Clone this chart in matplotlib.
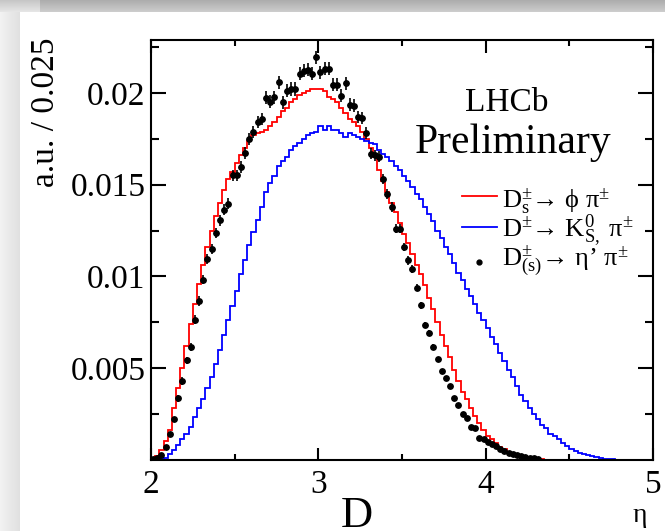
import numpy as np
import matplotlib
matplotlib.use('Agg')
import matplotlib.pyplot as plt
from matplotlib.lines import Line2D

plt.rcParams['font.family'] = ['Liberation Serif', 'DejaVu Serif']
plt.rcParams['mathtext.fontset'] = 'custom'
plt.rcParams['mathtext.rm'] = 'Liberation Serif'
plt.rcParams['mathtext.it'] = 'Liberation Serif:italic'
plt.rcParams['mathtext.bf'] = 'Liberation Serif:bold'

# ---------------- data ----------------
bin_low = 2.0
bin_width = 0.025

# D_s -> phi pi (red histogram), bins from 2.0 in steps of 0.025
red_phi_pi = [
    0.00005, 0.0002, 0.0005, 0.0010, 0.0016, 0.0028, 0.0039, 0.0050, 0.0062, 0.0074,
    0.0085, 0.0096, 0.0106, 0.0116, 0.0125, 0.0133, 0.0140, 0.0147, 0.0153, 0.0157,
    0.0162, 0.0166, 0.0170, 0.0174, 0.0177, 0.0178, 0.0179, 0.0180, 0.0182, 0.0184,
    0.0187, 0.0190, 0.0192, 0.0195, 0.0197, 0.0199, 0.0200, 0.0201, 0.0202, 0.0202,
    0.0202, 0.0201, 0.0198, 0.0197, 0.0195, 0.0192, 0.0189, 0.0186, 0.0184, 0.0182,
    0.0179, 0.0175, 0.0170, 0.0165, 0.0158, 0.0152, 0.0146, 0.0140, 0.0135, 0.0129,
    0.0123, 0.0118, 0.0112, 0.0106, 0.0101, 0.0095, 0.0088, 0.0082, 0.0075, 0.0068,
    0.0062, 0.0056, 0.0049, 0.0043, 0.0037, 0.0033, 0.0028, 0.0024, 0.0020, 0.0016,
    0.0013, 0.0011, 0.0009, 0.0007, 0.00055, 0.00042, 0.00033, 0.00026, 0.0002, 0.00015,
    0.00011, 0.00008, 0.00005, 0.00002,
]

# D -> K_S pi (blue histogram)
blue_ks_pi = [
    0.0, 0.0, 0.00003, 0.0001, 0.0003, 0.0005, 0.0008, 0.0011, 0.0014, 0.0018,
    0.0023, 0.0028, 0.0033, 0.0039, 0.0045, 0.0052, 0.0060, 0.0068, 0.0076, 0.0084,
    0.0092, 0.0101, 0.0109, 0.0117, 0.0124, 0.0131, 0.0138, 0.0146, 0.0151, 0.0155,
    0.0160, 0.0163, 0.0165, 0.0169, 0.0171, 0.0173, 0.0175, 0.0177, 0.0178, 0.0179,
    0.0182, 0.0180, 0.0182, 0.0180, 0.0180, 0.0178, 0.0176, 0.0178, 0.0177, 0.0176,
    0.0175, 0.0174, 0.0173, 0.0172, 0.0169, 0.0167, 0.0165, 0.0163, 0.0160, 0.0158,
    0.0155, 0.0152, 0.0149, 0.0145, 0.0142, 0.0138, 0.0134, 0.0130, 0.0125, 0.0121,
    0.0116, 0.0112, 0.0107, 0.0102, 0.0098, 0.0093, 0.0089, 0.0085, 0.0080, 0.0076,
    0.0072, 0.0067, 0.0063, 0.0058, 0.0054, 0.0049, 0.0045, 0.0040, 0.0035, 0.0032,
    0.0028, 0.0025, 0.0022, 0.0019, 0.0017, 0.0014, 0.0013, 0.0011, 0.0009, 0.00075,
    0.0006, 0.00048, 0.00038, 0.0003, 0.00023, 0.00017, 0.00012, 0.00008, 0.00005, 0.00003,
    0.00001,
]

# D_(s) -> eta' pi (black points) and their errors
black_etap_pi = [
    0.00001, 0.00006, 0.00024, 0.00069, 0.00138, 0.00219, 0.00333, 0.00429, 0.00542, 0.00615,
    0.00764, 0.00865, 0.00982, 0.01096, 0.01151, 0.01236, 0.01305, 0.01364, 0.01396, 0.01551,
    0.01551, 0.01596, 0.01675, 0.0175, 0.01787, 0.01841, 0.0186, 0.01974, 0.01954, 0.01978,
    0.0206, 0.0195, 0.02014, 0.02023, 0.02023, 0.02105, 0.02123, 0.02127, 0.02105, 0.02196,
    0.02114, 0.02133, 0.02133, 0.02047, 0.02047, 0.01987, 0.02054, 0.01937, 0.01932, 0.01872,
    0.01865, 0.01781, 0.01669, 0.0166, 0.01654, 0.01533, 0.01451, 0.01378, 0.0126, 0.0126,
    0.0116, 0.01087, 0.01042, 0.00938, 0.00842, 0.00733, 0.00691, 0.00615, 0.00546, 0.00485,
    0.00445, 0.0040, 0.00333, 0.00297, 0.00251, 0.00224, 0.00178, 0.0017, 0.0012, 0.0011,
    0.00097, 0.00084, 0.00073, 0.0006, 0.00047, 0.00037, 0.00029, 0.00022, 0.00018, 0.00015,
    0.0001, 0.00008, 0.00005,
]
black_err = [
    0.00005, 0.00005, 0.0001, 0.0001, 0.00012, 0.00015, 0.00018, 0.0002, 0.0002, 0.00022,
    0.00024, 0.00025, 0.00026, 0.00027, 0.00028, 0.00029, 0.0003, 0.0003, 0.0003, 0.00031,
    0.00031, 0.00032, 0.00032, 0.00033, 0.00033, 0.00034, 0.00034, 0.00035, 0.00035, 0.00035,
    0.00036, 0.00036, 0.00036, 0.00036, 0.00036, 0.00036, 0.00036, 0.00036, 0.00036, 0.00036,
    0.00036, 0.00036, 0.00036, 0.00035, 0.00035, 0.00035, 0.00035, 0.00034, 0.00034, 0.00033,
    0.00033, 0.00032, 0.0003, 0.0003, 0.0003, 0.00028, 0.00027, 0.00026, 0.00025, 0.00025,
    0.00024, 0.00023, 0.00022, 0.0002, 0.00018, 0.00016, 0.00015, 0.00014, 0.00012, 0.00011,
    0.0001, 0.0001, 0.00009, 0.00008, 0.00007, 0.00007, 0.00006, 0.00006, 0.00005, 0.00005,
    0.00004, 0.00004, 0.00004, 0.00004, 0.00004, 0.00004, 0.00004, 0.00004, 0.00004, 0.00004,
    0.00004, 0.00004, 0.00004,
]

xticks = [2, 3, 4, 5]
xtick_labels = ['2', '3', '4', '5']
xminor = [2.5, 3.5, 4.5]
yticks = [0.005, 0.01, 0.015, 0.02]
ytick_labels = ['0.005', '0.01', '0.015', '0.02']
yminor = [0.0025, 0.0075, 0.0125, 0.0175, 0.0225]

labels = ['D$^{\\pm}_{\\mathrm{s}}$→ ϕ π$^{\\pm}$',
          'D$^{\\pm}$→ K$^{0}_{\\mathrm{S},}$ π$^{\\pm}$',
          'D$^{\\pm}_{\\mathrm{(s)}}$→ η’ π$^{\\pm}$']

# ---------------- figure ----------------
W, H = 665, 531
fig = plt.figure(figsize=(W / 100, H / 100), dpi=100)


def fx(x):
    return x / W


def fy(y):
    return 1 - y / H


# background frame (grey strips at top and left)
bg = fig.add_axes([0, 0, 1, 1], zorder=-10)
img = np.ones((H, W, 3))
cols = np.linspace(0.95, 0.88, 20)
img[:, :20, :] = cols[None, :, None]
rows = np.linspace(0.68, 0.80, 12)
img[:12, :, :] = rows[:, None, None]
img[:12, :40, :] = np.minimum(1, rows[:, None, None] + 0.1)
bg.imshow(img, aspect='auto', interpolation='nearest')
bg.axis('off')

ax = fig.add_axes([fx(151), fy(459.5), (653 - 151) / W, (459.5 - 40) / H])
ax.set_facecolor('none')

edges_red = bin_low + bin_width * np.arange(len(red_phi_pi) + 1)
edges_blue = bin_low + bin_width * np.arange(len(blue_ks_pi) + 1)
ax.stairs(red_phi_pi, edges_red, color='#ff0000', lw=1.3, zorder=2)
ax.stairs(blue_ks_pi, edges_blue, color='#0000ff', lw=1.3, zorder=2)
centers = bin_low + bin_width * (np.arange(len(black_etap_pi)) + 0.5)
ax.errorbar(centers, black_etap_pi, yerr=black_err, fmt='o', color='black',
            ms=3.9, elinewidth=1.2, capsize=0, zorder=3)

ax.set_xlim(2, 5)
ax.set_ylim(0, 0.0229)
ax.set_xticks(xticks, xtick_labels)
ax.set_xticks(xminor, minor=True)
ax.set_yticks(yticks, ytick_labels)
ax.set_yticks(yminor, minor=True)
ax.tick_params(which='both', direction='in', top=True, right=True, width=1.5,
               labelsize=24, colors='black')
ax.tick_params(axis='x', which='major', length=9, pad=7)
ax.tick_params(axis='x', which='minor', length=4.5)
ax.tick_params(axis='y', which='major', length=11, pad=4)
ax.tick_params(axis='y', which='minor', length=5.5)
for s in ax.spines.values():
    s.set_linewidth(1.5)

# axis titles
fig.text(fx(46), fy(37), 'a.u. / 0.025', rotation=90, ha='center', va='top', fontsize=24)
fig.text(fx(357), fy(527), 'D', ha='center', va='baseline', fontsize=32)
fig.text(fx(640), fy(522), 'η', ha='center', va='baseline', fontsize=20)

# LHCb labels
fig.text(fx(507), fy(111), 'LHCb', ha='center', va='baseline', fontsize=24)
fig.text(fx(513), fy(153), 'Preliminary', ha='center', va='baseline', fontsize=30)

# legend
fig.add_artist(Line2D([fx(462), fx(497)], [fy(196), fy(196)], color='#ff0000', lw=1.3))
fig.add_artist(Line2D([fx(462), fx(497)], [fy(227), fy(227)], color='#0000ff', lw=1.3))
fig.add_artist(Line2D([fx(479)], [fy(262)], color='black', marker='o', ms=3.5, lw=0))
for lab, yb in zip(labels, [208, 237, 266]):
    fig.text(fx(502), fy(yb), lab, ha='left', va='baseline', fontsize=19)

fig.savefig('out.png', dpi=100)
